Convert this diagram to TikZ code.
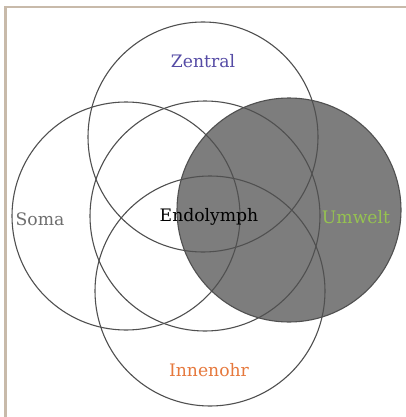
\documentclass[tikz,border=0pt]{standalone}
\usepackage{fontspec}
\setmainfont{DejaVu Serif}
\definecolor{frametan}{RGB}{200,186,170}
\definecolor{ringgray}{RGB}{80,80,80}
\definecolor{umweltfill}{RGB}{125,125,125}
\definecolor{zentralc}{RGB}{85,75,165}
\definecolor{somac}{RGB}{110,110,110}
\definecolor{umweltc}{RGB}{150,195,80}
\definecolor{innenc}{RGB}{230,120,60}
\begin{document}
\begin{tikzpicture}[x=1pt,y=-1pt,
  ring/.style={draw=ringgray,line width=1.1pt},
  lbl/.style={font=\fontsize{17.2}{20}\selectfont,inner sep=0pt}]
\useasboundingbox (0,0) rectangle (406,417);
\fill[white] (0,0) rectangle (406,417);
% frame, open to the right and bottom
\draw[frametan,line width=2.5pt] (5.5,417) -- (5.5,7) -- (406,7);
% filled disk first, outlines on top
\fill[umweltfill] (289,210) circle (112);
\draw[ring] (203,137) circle (115);
\draw[ring] (126,216) circle (114);
\draw[ring] (205,216) circle (115);
\draw[ring] (210,291) circle (115);
\draw[ring] (289,210) circle (112);
\node[lbl,text=zentralc] (zentral) at (203,61) {Zentral};
\node[lbl,text=somac] (soma) at (40,219) {Soma};
\node[lbl,text=black] (endo) at (209,217) {Endolymph};
\node[lbl,text=umweltc] (umwelt) at (356,217) {Umwelt};
\node[lbl,text=innenc] (innen) at (209,370) {Innenohr};
\end{tikzpicture}
\end{document}
